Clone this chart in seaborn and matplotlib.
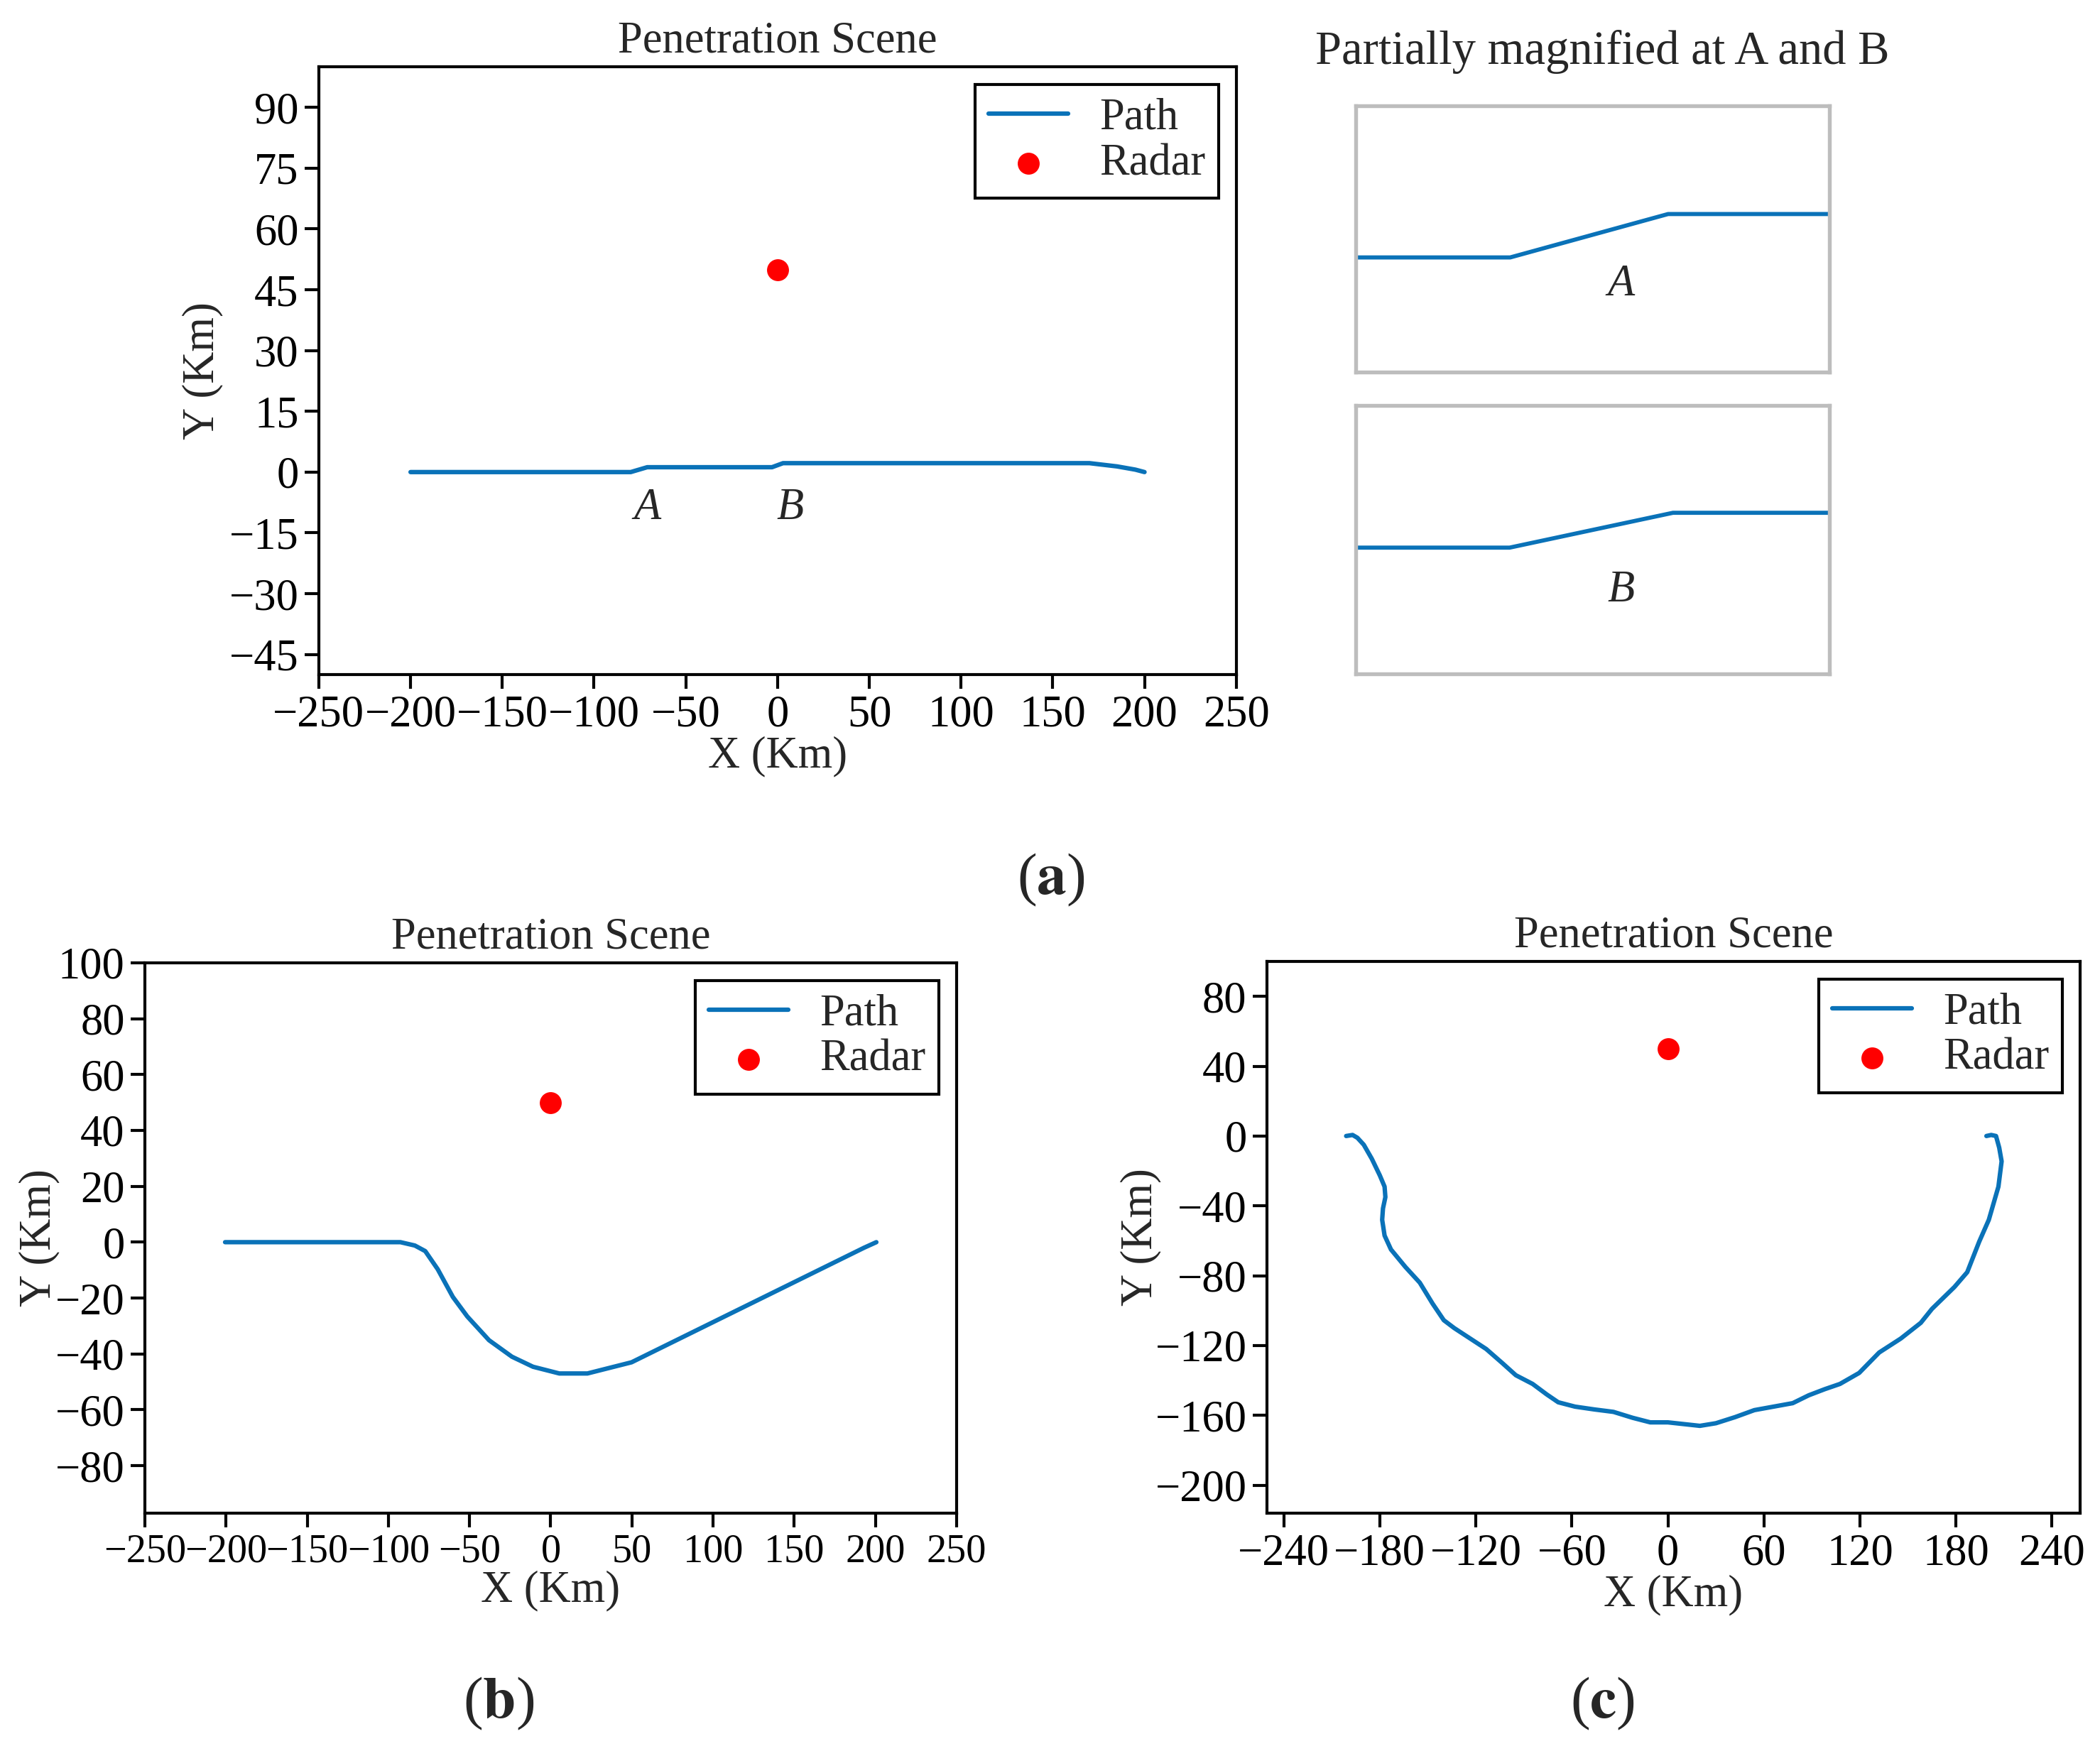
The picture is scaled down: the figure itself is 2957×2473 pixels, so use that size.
import numpy as np
import pandas as pd
import matplotlib
matplotlib.use("Agg")
import matplotlib.pyplot as plt
import seaborn as sns

# path (a): nearly straight path with two small steps at A and B
path_a_x = [-200, -80, -71, -3, 3, 170, 185, 195, 200]
path_a_y = [0, 0, 1.2, 1.2, 2.2, 2.2, 1.4, 0.6, 0]

# path (b): dips below the radar
path_b_x = [-200.6, -92.6, -83.7, -77.3, -69.6, -60.3, -51.4, -38, -23.9,
            -10.9, 5.3, 22.6, 49.8, 193, 200.6]
path_b_y = [0, 0, -1.2, -3.2, -9.7, -19.6, -26.6, -35.1, -41,
            -44.6, -47, -47, -43, -2, 0]

# path (c): wide detour
path_c_x = [-201, -197, -194, -190, -185, -180, -177, -176.5, -178, -178.5,
            -177, -173, -164, -155, -147, -140, -133.5, -123.5, -113.5, -103.5,
            -95, -84.5, -75.7, -68.5, -58, -46, -34, -22, -11, 0,
            10, 20, 30, 42, 54, 66, 78, 88, 98, 107.5,
            119.5, 132, 145.5, 158, 165, 179, 187, 194.5, 200.5, 206.5,
            208.5, 207, 205, 202, 199]
path_c_y = [0, 0.6, -1, -5, -13, -22.5, -29, -35, -41.5, -48,
            -57, -65, -75, -84, -96, -105.5, -110, -116, -122, -130,
            -137, -142, -148, -152.5, -155, -156.6, -158, -161.4, -164, -164,
            -165, -166, -164.5, -161, -157, -155, -153, -148.5, -145, -142,
            -135.7, -124, -116, -107, -99, -86.5, -78, -60.5, -48, -29,
            -14.5, -6.7, 0, 0.6, 0]

radar_x = [0]
radar_y = [50]

path_color = "#0a72b8"

sns.set_style("ticks")
plt.rcParams["font.family"] = ["Liberation Serif", "DejaVu Serif"]
plt.rcParams["mathtext.fontset"] = "stix"
plt.rcParams["axes.linewidth"] = 1.0
plt.rcParams["xtick.major.size"] = 4.8
plt.rcParams["ytick.major.size"] = 4.8
plt.rcParams["xtick.major.width"] = 1.0
plt.rcParams["ytick.major.width"] = 1.0
plt.rcParams["axes.edgecolor"] = "black"

FS = 15

fig = plt.figure(figsize=(2957 / 300, 2473 / 300), dpi=300)


def scene(ax, xs, ys, xlim, ylim, xticks, yticks, xtick_fs=FS, ylabpad=2):
    df = pd.DataFrame({"x": xs, "y": ys})
    sns.lineplot(data=df, x="x", y="y", sort=False, estimator=None,
                 color=path_color, lw=1.5, label="Path", ax=ax)
    sns.scatterplot(x=radar_x, y=radar_y, color="red", s=55, linewidth=0,
                    label="Radar", ax=ax, zorder=3)
    ax.set_xlim(*xlim)
    ax.set_ylim(*ylim)
    ax.set_xticks(xticks)
    ax.set_yticks(yticks)
    ax.tick_params(labelsize=FS, pad=2, colors="black")
    ax.tick_params(axis="x", labelsize=xtick_fs)
    ax.set_xlabel("X (Km)", fontsize=FS, labelpad=0)
    ax.set_ylabel("Y (Km)", fontsize=FS, labelpad=ylabpad)
    ax.set_title("Penetration Scene", fontsize=FS, pad=5)
    leg = ax.legend(loc="upper right", fontsize=FS, frameon=True, fancybox=False,
                    edgecolor="black", framealpha=1, handlelength=1.8,
                    handletextpad=0.7, borderaxespad=0.4, labelspacing=0.1,
                    borderpad=0.3)
    leg.get_frame().set_linewidth(1.0)
    for sp in ax.spines.values():
        sp.set_visible(True)


# (a)
ax_a = fig.add_axes([0.1518, 0.6158, 0.4369, 0.3461])
scene(ax_a, path_a_x, path_a_y, (-250, 250), (-50, 100),
      np.arange(-250, 251, 50), np.arange(-45, 91, 15))
ax_a.text(-71, -9, "A", fontsize=FS, style="italic", ha="center", va="center")
ax_a.text(7, -9, "B", fontsize=FS, style="italic", ha="center", va="center")

# magnified views
fig.text(0.763, 0.9705, "Partially magnified at A and B", fontsize=16,
         ha="center", va="center")
insets = [
    ([0.6456, 0.7881, 0.2256, 0.1516], (-88.8, -61.8), (-3.17, 4.19), "A", 0.327),
    ([0.6456, 0.6163, 0.2256, 0.1528], (-8.65, 8.75), (-2.42, 5.28), "B", 0.31),
]
for rect, xl, yl, lab, ly in insets:
    ax_i = fig.add_axes(rect)
    sns.lineplot(x=path_a_x, y=path_a_y, sort=False, estimator=None,
                 color=path_color, lw=1.4, ax=ax_i)
    ax_i.set_xlim(*xl)
    ax_i.set_ylim(*yl)
    ax_i.set_xticks([])
    ax_i.set_yticks([])
    ax_i.set_xlabel("")
    ax_i.set_ylabel("")
    for sp in ax_i.spines.values():
        sp.set_visible(True)
        sp.set_color("#bdbdbd")
        sp.set_linewidth(1.3)
    ax_i.text(0.56, ly, lab, transform=ax_i.transAxes, fontsize=FS,
              style="italic", ha="center", va="center")

# (b)
ax_b = fig.add_axes([0.069, 0.1383, 0.3865, 0.3134])
scene(ax_b, path_b_x, path_b_y, (-250, 250), (-97, 100),
      np.arange(-250, 251, 50), np.arange(-80, 101, 20), xtick_fs=13.5, ylabpad=-1.5)

# (c)
ax_c = fig.add_axes([0.6033, 0.1383, 0.3872, 0.3142])
scene(ax_c, path_c_x, path_c_y, (-250.5, 257.5), (-216, 100),
      np.arange(-240, 241, 60), np.arange(-200, 81, 40), ylabpad=-2)

for x, y, lab in [(0.5006, 0.499, "a"), (0.2374, 0.0299, "b"), (0.763, 0.0299, "c")]:
    fig.text(x, y, "(" + r"$\mathbf{" + lab + "}$" + ")", fontsize=20,
             ha="center", va="center")

fig.savefig("out.png", dpi=300)
